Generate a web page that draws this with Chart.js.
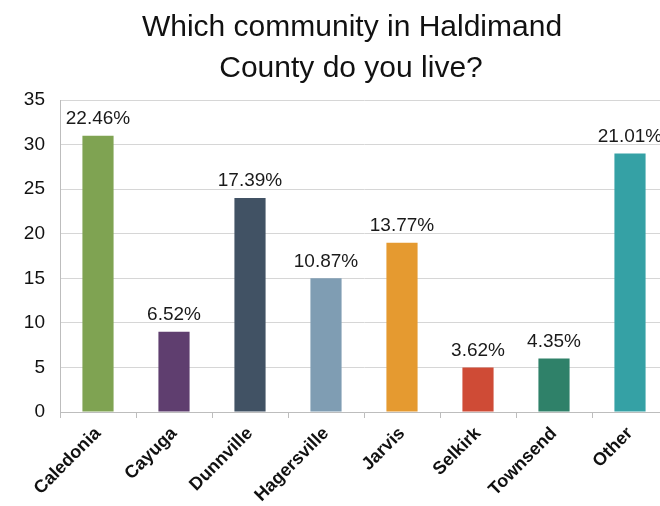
<!DOCTYPE html>
<html>
<head>
<meta charset="utf-8">
<script src="https://cdn.jsdelivr.net/npm/chart.js@4/dist/chart.umd.min.js"></script>
<style>
  html, body { margin: 0; padding: 0; background: #fff; overflow: hidden; }
  #wrap { position: absolute; left: 0; top: 0; width: 700px; height: 506px; }
</style>
</head>
<body>
<div id="wrap"><canvas id="community_chart" width="700" height="506"></canvas></div>
<script>
// survey answers: number of respondents per community
const communities = ['Caledonia', 'Cayuga', 'Dunnville', 'Hagersville', 'Jarvis', 'Selkirk', 'Townsend', 'Other'];
const responses = [31, 9, 24, 15, 19, 5, 6, 29];
const barColors = ['#7fa352', '#5f3e6f', '#415264', '#7f9db3', '#e59a30', '#cf4b36', '#2f8169', '#35a1a5'];
const yTicks = [0, 5, 10, 15, 20, 25, 30, 35];
const titleLines = ['Which community in Haldimand', 'County do you live?'];

const totalResponses = responses.reduce((a, b) => a + b, 0);
const FONT = '"Liberation Sans", Arial, sans-serif';

// two-line heading, drawn by hand so it can sit a bit right of the plot centre
const heading = {
  id: 'heading',
  beforeDraw(chart) {
    const ctx = chart.ctx;
    ctx.save();
    ctx.font = '30px ' + FONT;
    ctx.fillStyle = '#111';
    ctx.textAlign = 'center';
    ctx.textBaseline = 'middle';
    ctx.fillText(titleLines[0], 352, 28);
    ctx.fillText(titleLines[1], 351, 69);
    ctx.restore();
  }
};

// percent share written above each bar
const pctLabels = {
  id: 'pctLabels',
  afterDatasetsDraw(chart) {
    const ctx = chart.ctx;
    const meta = chart.getDatasetMeta(0);
    ctx.save();
    ctx.font = '19px ' + FONT;
    ctx.fillStyle = '#1a1a1a';
    ctx.textAlign = 'center';
    ctx.textBaseline = 'middle';
    meta.data.forEach((bar, i) => {
      const pct = (responses[i] / totalResponses * 100).toFixed(2) + '%';
      ctx.fillText(pct, bar.x, bar.y - 17);
    });
    ctx.restore();
  }
};

const ctx = document.getElementById('community_chart').getContext('2d');
const communityChart = new Chart(ctx, {
  type: 'bar',
  data: {
    labels: communities,
    datasets: [{ label: 'Responses', data: responses, backgroundColor: barColors, barPercentage: 0.41, categoryPercentage: 1 }]
  },
  options: {
    responsive: false,
    animation: false,
    layout: { padding: { left: 0, right: 32, top: 100, bottom: 0 } },
    plugins: {
      legend: { display: false },
      tooltip: { enabled: false },
      title: { display: false }
    },
    scales: {
      x: {
        grid: { drawOnChartArea: false, drawTicks: true, tickLength: 6, color: '#bdbdbd' },
        border: { color: '#bdbdbd' },
        ticks: {
          color: '#111', maxRotation: 45, minRotation: 45, padding: 5,
          font: { family: FONT, size: 18, weight: 'bold' }
        },
        afterFit(scale) { scale.height = 94; }
      },
      y: {
        min: 0, max: 35,
        afterBuildTicks(scale) { scale.ticks = yTicks.map(v => ({ value: v })); },
        grid: { color: '#d6d6d6', drawTicks: false },
        border: { color: '#bdbdbd' },
        ticks: {
          color: '#111', padding: 15,
          font: { family: FONT, size: 19 }
        },
        afterFit(scale) { scale.width = 60; }
      }
    }
  },
  plugins: [heading, pctLabels]
});
</script>
</body>
</html>
